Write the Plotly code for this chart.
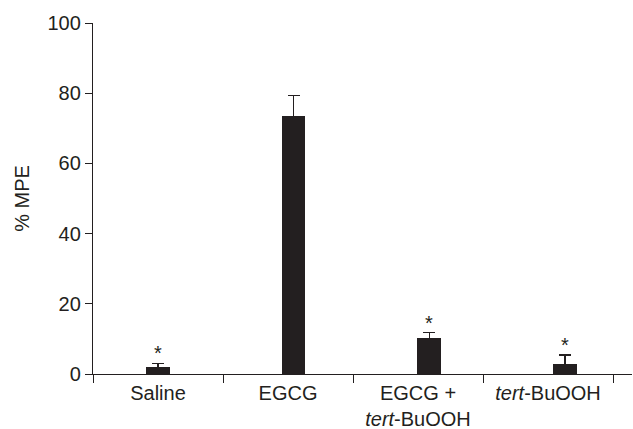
import plotly.graph_objects as go

categories = ["Saline", "EGCG", "EGCG +<br><i>tert</i>-BuOOH", "<i>tert</i>-BuOOH"]
mpe_mean = [1.9, 73.5, 10.2, 2.8]
mpe_err = [1.1, 5.8, 1.6, 2.7]
significant = [True, False, True, True]
y_ticks = [0, 20, 40, 60, 80, 100]

ink = "#231f20"
font = dict(family="Liberation Sans, Arial, sans-serif", size=20, color=ink)

fig = go.Figure()
fig.add_trace(go.Bar(
    x=categories, y=mpe_mean, width=0.175,
    marker=dict(color=ink, line=dict(width=0)),
    error_y=dict(type="data", array=mpe_err, symmetric=True,
                 color=ink, thickness=1.6, width=6),
    xaxis="x", yaxis="y", hoverinfo="skip", showlegend=False,
))
# invisible trace for the label axis
fig.add_trace(go.Bar(
    x=categories, y=mpe_mean, opacity=0, xaxis="x2", yaxis="y",
    hoverinfo="skip", showlegend=False,
))

for c, m, e, s in zip(categories, mpe_mean, mpe_err, significant):
    if s:
        fig.add_annotation(x=c, y=m + e, xref="x", yref="y", text="*",
                           showarrow=False, yanchor="bottom", yshift=-3,
                           font=dict(family=font["family"], size=20, color=ink))

fig.update_layout(
    width=633, height=429,
    margin=dict(l=93, r=1, t=23, b=55, autoexpand=False),
    paper_bgcolor="white", plot_bgcolor="white",
    font=font,
    bargap=0,
    xaxis=dict(
        type="category", range=[-0.478, 3.493],
        showticklabels=False, ticks="", showline=True,
        linecolor=ink, linewidth=1.3, showgrid=False, zeroline=False,
    ),
    xaxis2=dict(
        type="category", overlaying="x", anchor="y", side="bottom",
        range=[-0.5, 3.646], tickson="boundaries", ticks="outside",
        ticklen=8, tickwidth=1.3, tickcolor=ink, showline=False,
        showgrid=False, zeroline=False, tickfont=font,
        ticklabelstandoff=5,
    ),
    yaxis=dict(
        range=[0, 100], tickvals=y_ticks, ticks="outside", ticklen=7,
        tickwidth=1.3, tickcolor=ink, showline=True, linecolor=ink,
        linewidth=1.3, showgrid=False, zeroline=False, tickfont=font,
        title=dict(text="% MPE", font=font, standoff=12),
    ),
)

fig.write_html("out.html", config={"displayModeBar": False},
               post_script="document.body.style.margin='0';")
